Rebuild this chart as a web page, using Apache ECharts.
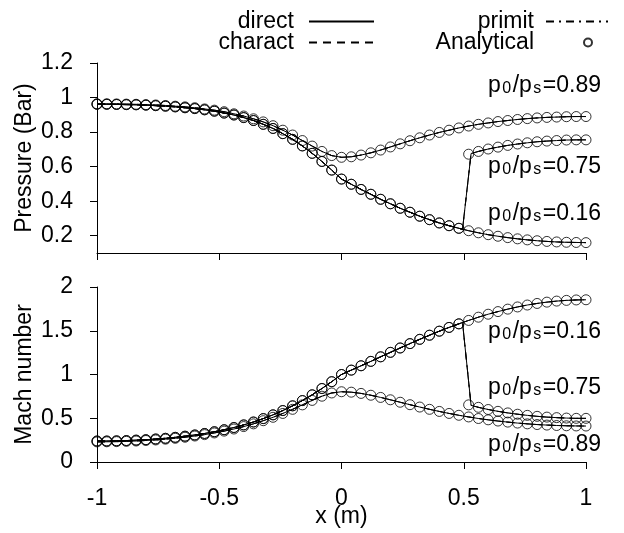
<!DOCTYPE html>
<html><head><meta charset="utf-8">
<script src="https://cdn.jsdelivr.net/npm/echarts@6/dist/echarts.min.js"></script>
<style>html,body{margin:0;padding:0;background:#fff}#c{width:624px;height:533px}</style>
</head><body><div id="c"></div>
<script>
// x positions of the analytical points
const xs = [-1,-0.96,-0.92,-0.88,-0.84,-0.8,-0.76,-0.72,-0.68,-0.64,-0.6,-0.56,-0.52,-0.48,-0.44,-0.4,-0.36,-0.32,-0.28,-0.24,-0.2,-0.16,-0.12,-0.08,-0.04,0,0.04,0.08,0.12,0.16,0.2,0.24,0.28,0.32,0.36,0.4,0.44,0.48,0.52,0.56,0.6,0.64,0.68,0.72,0.76,0.8,0.84,0.88,0.92,0.96,1];
// pressure (bar)
const p016 = [0.961,0.961,0.960,0.959,0.958,0.956,0.953,0.950,0.946,0.941,0.936,0.929,0.921,0.910,0.899,0.884,0.867,0.845,0.821,0.791,0.758,0.720,0.677,0.630,0.580,0.528,0.498,0.468,0.440,0.411,0.385,0.359,0.336,0.313,0.293,0.274,0.258,0.243,0.229,0.217,0.206,0.197,0.189,0.182,0.176,0.171,0.167,0.164,0.162,0.161,0.160];
const p075 = [0.961,0.961,0.960,0.959,0.958,0.956,0.953,0.950,0.946,0.941,0.936,0.929,0.921,0.910,0.899,0.884,0.867,0.845,0.821,0.791,0.758,0.720,0.677,0.630,0.580,0.528,0.498,0.468,0.440,0.411,0.385,0.359,0.336,0.313,0.293,0.274,0.258,0.243,0.672,0.688,0.702,0.713,0.723,0.731,0.738,0.744,0.748,0.751,0.754,0.755,0.755];
const p089 = [0.964,0.964,0.963,0.962,0.961,0.959,0.957,0.954,0.950,0.946,0.941,0.934,0.927,0.918,0.906,0.893,0.877,0.859,0.837,0.811,0.783,0.751,0.719,0.688,0.664,0.654,0.657,0.667,0.680,0.696,0.714,0.732,0.750,0.767,0.783,0.798,0.811,0.824,0.835,0.845,0.853,0.861,0.867,0.873,0.878,0.882,0.885,0.887,0.889,0.890,0.890];
// Mach number
const m016 = [0.240,0.240,0.242,0.245,0.250,0.255,0.263,0.271,0.282,0.295,0.309,0.326,0.346,0.369,0.394,0.424,0.457,0.496,0.539,0.588,0.642,0.702,0.768,0.840,0.918,1.000,1.050,1.100,1.150,1.202,1.253,1.303,1.353,1.402,1.449,1.495,1.538,1.579,1.618,1.655,1.689,1.719,1.747,1.772,1.794,1.812,1.827,1.839,1.847,1.852,1.854];
const m075 = [0.240,0.240,0.242,0.245,0.250,0.255,0.263,0.271,0.282,0.295,0.309,0.326,0.346,0.369,0.394,0.424,0.457,0.496,0.539,0.588,0.642,0.702,0.768,0.840,0.918,1.000,1.050,1.100,1.150,1.202,1.253,1.303,1.353,1.402,1.449,1.495,1.538,1.579,0.653,0.625,0.600,0.579,0.561,0.546,0.533,0.522,0.513,0.507,0.502,0.499,0.499];
const m089 = [0.230,0.231,0.233,0.236,0.240,0.246,0.252,0.261,0.271,0.283,0.297,0.313,0.332,0.353,0.377,0.405,0.436,0.472,0.511,0.555,0.602,0.653,0.704,0.752,0.789,0.803,0.798,0.784,0.763,0.738,0.711,0.683,0.655,0.628,0.602,0.578,0.555,0.534,0.515,0.497,0.482,0.468,0.456,0.445,0.436,0.428,0.422,0.417,0.414,0.412,0.411];
// numerical shock (p0/ps = 0.75): foot and head of the jump
const shockX = [0.495, 0.53];
const shockP = [0.237, 0.676];
const shockM = [1.594, 0.647];
// tick labels
const pTicks = [0.2, 0.4, 0.6, 0.8, 1, 1.2];
const ratioLabels = ['0.89', '0.75', '0.16'];

const FONT = '"Liberation Sans", Arial, Helvetica, sans-serif';
const FS = 23;
const chart = echarts.init(document.getElementById('c'), null, {renderer: 'canvas'});

function pairs(yv) { return xs.map((x, i) => [x, yv[i]]); }
function shockLine(yv, sy) {
  const out = [];
  xs.forEach((x, i) => { if (x <= 0.48) out.push([x, yv[i]]); });
  out.push([shockX[0], sy[0]], [shockX[1], sy[1]]);
  xs.forEach((x, i) => { if (x >= 0.56) out.push([x, yv[i]]); });
  return out;
}

const methods = [
  {name: 'direct', type: 'solid'},
  {name: 'charact', type: [8, 6]},
  {name: 'primit', type: [8, 5, 2, 5]}
];
const cases = [
  {g: 0, line: pairs(p016), pts: pairs(p016)},
  {g: 0, line: shockLine(p075, shockP), pts: pairs(p075)},
  {g: 0, line: pairs(p089), pts: pairs(p089)},
  {g: 1, line: pairs(m016), pts: pairs(m016)},
  {g: 1, line: shockLine(m075, shockM), pts: pairs(m075)},
  {g: 1, line: pairs(m089), pts: pairs(m089)}
];
const series = [];
cases.forEach(c => {
  methods.forEach(m => {
    series.push({
      name: m.name, type: 'line', xAxisIndex: c.g, yAxisIndex: c.g, data: c.line,
      symbol: 'none', silent: true, animation: false, z: 2,
      lineStyle: {color: '#000', width: 1, type: m.type},
      itemStyle: {color: 'rgba(0,0,0,0)', borderColor: 'rgba(0,0,0,0)', borderWidth: 0}
    });
  });
  series.push({
    name: 'Analytical', type: 'scatter', xAxisIndex: c.g, yAxisIndex: c.g, data: c.pts,
    symbol: 'circle', symbolSize: 10, silent: true, animation: false, z: 3,
    itemStyle: {color: 'rgba(0,0,0,0)', borderColor: '#000', borderWidth: 1}
  });
});

const txt = {fontFamily: FONT, fontSize: FS, color: '#000'};
const axisLine = {show: true, onZero: false, lineStyle: {color: '#000', width: 1}};
const axisTick = {show: true, inside: false, length: 7, lineStyle: {color: '#000', width: 1}};
const fmt = v => String(+(+v).toFixed(2));

function legendOf(name, right, top, w, h, pad, hideSymbol) {
  const lg = {
    data: [name], orient: 'vertical', align: 'right', right: right, top: top, padding: 0,
    itemWidth: w, itemHeight: h, selectedMode: false,
    textStyle: Object.assign({}, txt, {padding: [0, pad, 0, 0]})
  };
  if (hideSymbol) lg.itemStyle = {color: 'rgba(0,0,0,0)', borderColor: 'rgba(0,0,0,0)', borderWidth: 0};
  return lg;
}

function ratioText(v) { return '{a|p}{s|0}{a|/p}{s|s}{a|=' + v + '}'; }
const rich = {
  a: {fontFamily: FONT, fontSize: FS, color: '#000', lineHeight: FS, verticalAlign: 'top'},
  s: {fontFamily: FONT, fontSize: 16, color: '#000', lineHeight: 16, verticalAlign: 'bottom', padding: [11, 1.5, 0, 1.5]}
};
function note(label, y) {
  return {type: 'text', x: 488, y: y, silent: true,
    style: {text: ratioText(label), rich: rich, fontFamily: FONT, fontSize: FS, fill: '#000', verticalAlign: 'top'}};
}

chart.setOption({
  animation: false,
  backgroundColor: '#fff',
  grid: [
    {left: 97, right: 38, top: 63, height: 190},
    {left: 97, right: 38, top: 287, height: 175}
  ],
  legend: [
    legendOf('direct', 249, 10, 65, 14, 10, true),
    legendOf('charact', 249, 31, 65, 14, 10, true),
    legendOf('primit', 15, 10, 62, 14, 7, true),
    legendOf('Analytical', 31, 31, 8, 8, 45, false)
  ],
  xAxis: [
    {type: 'value', gridIndex: 0, min: -1, max: 1, interval: 0.5,
     axisLine: axisLine, axisTick: axisTick, axisLabel: {show: false}, splitLine: {show: false}},
    {type: 'value', gridIndex: 1, min: -1, max: 1, interval: 0.5,
     name: 'x (m)', nameLocation: 'middle', nameGap: 43, nameMoveOverlap: false, nameTextStyle: txt,
     axisLine: axisLine, axisTick: axisTick, axisLabel: Object.assign({margin: 25, formatter: fmt}, txt), splitLine: {show: false}}
  ],
  yAxis: [
    {type: 'value', gridIndex: 0, min: 0.1, max: 1.2,
     name: 'Pressure (Bar)', nameLocation: 'middle', nameGap: 61, nameMoveOverlap: false, nameTextStyle: txt,
     axisLine: axisLine,
     axisTick: Object.assign({customValues: pTicks}, axisTick),
     axisLabel: Object.assign({customValues: pTicks, margin: 24, formatter: fmt}, txt),
     splitLine: {show: false}},
    {type: 'value', gridIndex: 1, min: 0, max: 2, interval: 0.5,
     name: 'Mach number', nameLocation: 'middle', nameGap: 61, nameMoveOverlap: false, nameTextStyle: txt,
     axisLine: axisLine, axisTick: axisTick,
     axisLabel: Object.assign({margin: 24, formatter: fmt}, txt),
     splitLine: {show: false}}
  ],
  graphic: [
    note(ratioLabels[0], 74), note(ratioLabels[1], 155), note(ratioLabels[2], 202),
    note(ratioLabels[2], 320), note(ratioLabels[1], 376), note(ratioLabels[0], 433)
  ],
  series: series
});
</script></body></html>
